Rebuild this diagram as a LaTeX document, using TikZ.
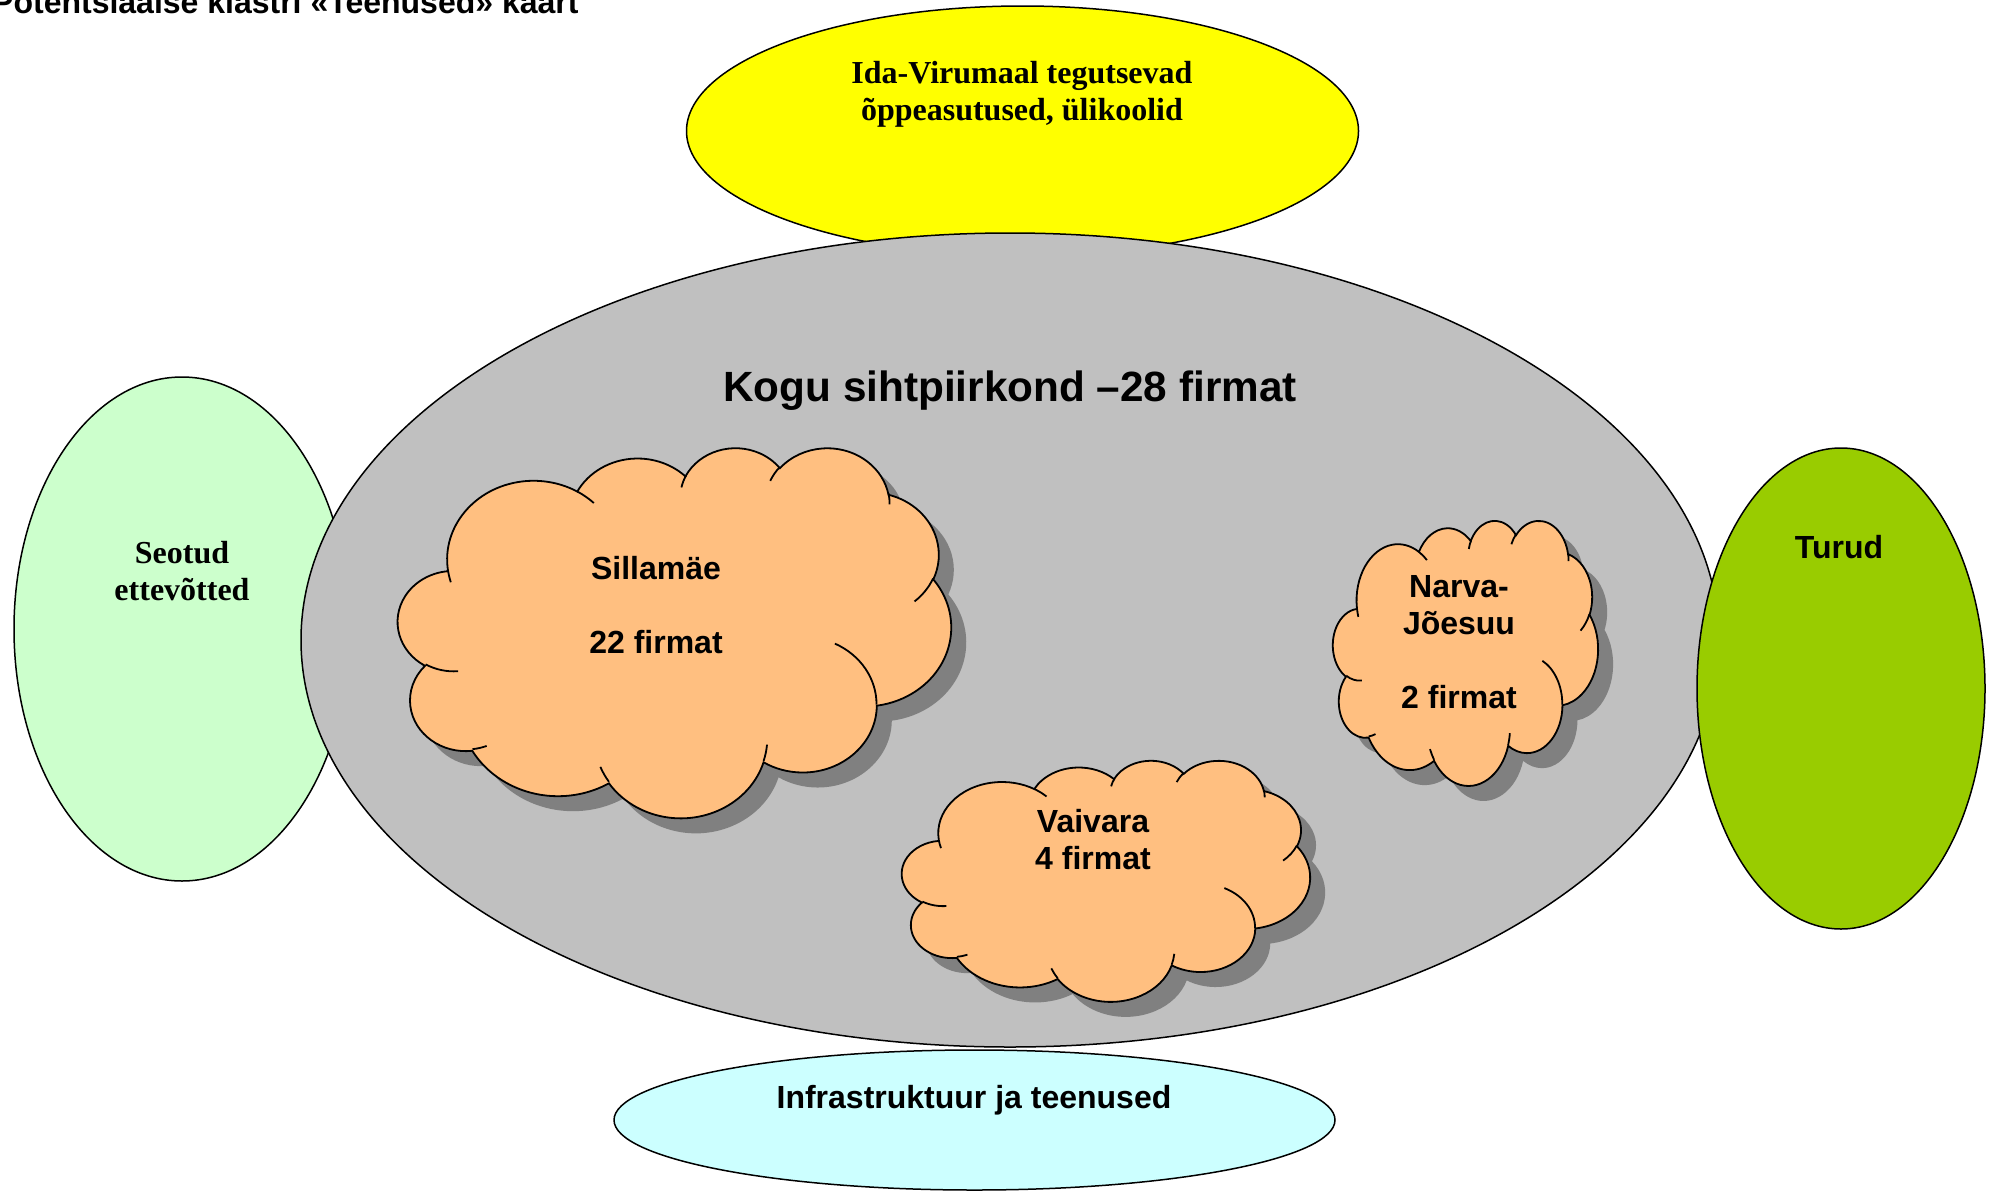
\documentclass[tikz,border=0pt]{standalone}
\usepackage{fontspec}
\setmainfont{Liberation Sans}
\newfontfamily\klTimes{Liberation Serif}
\usepackage{tikz}
\definecolor{klGray}{HTML}{C0C0C0}
\definecolor{klYellow}{HTML}{FFFF00}
\definecolor{klMint}{HTML}{CCFFCC}
\definecolor{klLime}{HTML}{99CC00}
\definecolor{klCyan}{HTML}{CCFFFF}
\definecolor{klOrange}{HTML}{FFBF80}
\definecolor{klShadow}{HTML}{808080}
\tikzset{
  klShape/.style={draw=black,line width=1.5pt},
  klSans/.style={font=\bfseries\fontsize{32}{37}\selectfont,align=center,inner sep=0pt},
  klSerif/.style={font=\klTimes\bfseries\fontsize{32}{37}\selectfont,align=center,inner sep=0pt},
  klBig/.style={font=\bfseries\fontsize{42.3}{48}\selectfont,inner sep=0pt},
  klPuff/.style={fill=klOrange,draw=black,line width=1.8pt},
  klPuffShadow/.style={fill=klShadow},
  klCrease/.style={draw=black,line width=1.8pt}
}
% arc of a puff: radii, visual start angle, visual sweep
\newcommand{\klAngles}[4]{%
  \pgfmathsetmacro{\klTs}{atan2(#1*sin(#3),#2*cos(#3))}%
  \pgfmathsetmacro{\klTe}{atan2(#1*sin(#3+#4),#2*cos(#3+#4))}%
  \pgfmathsetmacro{\klDt}{mod(\klTe-\klTs+720,360)}%
  \global\let\klTs\klTs\global\let\klDt\klDt}
\newcommand{\klArc}[4]{\pgfextra{\klAngles{#1}{#2}{#3}{#4}}
  arc[start angle=\klTs,delta angle=\klDt,x radius=#1,y radius=#2]}
% cloud outline in a 432 x 432 box
\newcommand{\klRim}{(39,143.7)
  \klArc{67.53}{91.90}{-190.4875}{123.7805}
  \klArc{53.33}{72.67}{-144.1024}{89.9452}
  \klArc{43.65}{59.45}{-145.8079}{99.7230}
  \klArc{48.57}{65.95}{-130.9861}{117.2417}
  \klArc{53.33}{72.73}{-78.7089}{109.0269}
  \klArc{67.75}{92.20}{-46.2673}{130.2690}
  \klArc{57.85}{78.67}{0.6250}{114.0333}
  \klArc{67.52}{92.15}{22.4516}{115.1726}
  \klArc{77.20}{105.43}{66.2426}{75.7110}
  \klArc{43.60}{59.18}{-274.9421}{146.7356}
  \klArc{43.45}{59.45}{-246.8285}{152.5189} -- cycle}
\newcommand{\klCreases}{
  (46.93,261.77) \klArc{43.45}{59.45}{86.742}{26.4295}
  (69.28,348.99) \klArc{43.60}{59.18}{73.6105}{11.4475}
  (164.78,390.90) \klArc{67.52}{92.15}{137.6242}{14.0811}
  (288.27,347.51) \klArc{67.52}{92.15}{6.4533}{15.9984}
  (341.29,229.54) \klArc{57.85}{78.67}{-70.2924}{70.9174}
  (417.98,153.54) \klArc{53.33}{72.73}{30.318}{27.7515}
  (383.24,54.26) \klArc{48.57}{65.95}{-13.7443}{14.8589}
  (290.78,39.52) \klArc{48.57}{65.95}{-149.1815}{18.1954}
  (221.41,47.20) \klArc{43.65}{59.45}{-163.4943}{17.6864}
  (140.00,51.92) \klArc{67.53}{91.90}{-66.707}{12.3194}
  (41.27,157.89) \klArc{67.53}{91.90}{157.6544}{11.8582}}
% cloud: left, top, width, height
\newcommand{\klCloud}[4]{%
  \begin{scope}[shift={(#1+15,#2+15)},xscale=#3/432,yscale=#4/432]
    \path[klPuffShadow] \klRim;
  \end{scope}
  \begin{scope}[shift={(#1,#2)},xscale=#3/432,yscale=#4/432]
    \path[klPuff] \klRim;
    \draw[klCrease] \klCreases;
  \end{scope}}

\begin{document}
\begin{tikzpicture}[x=1pt,y=-1pt]
\useasboundingbox (0,0) rectangle (1993,1191);
\clip (0,0) rectangle (1993,1191);
\fill[white] (0,0) rectangle (1993,1191);
% surrounding ellipses
\path[klShape,fill=klYellow] (1022.5,131) ellipse[x radius=336,y radius=125];
\path[klShape,fill=klMint] (182,629) ellipse[x radius=168,y radius=252];
\path[klShape,fill=klGray] (1010,640) ellipse[x radius=709,y radius=407];
\path[klShape,fill=klLime] (1841,688.5) ellipse[x radius=144,y radius=240.5];
\path[klShape,fill=klCyan] (974.5,1120) ellipse[x radius=360.5,y radius=70];
% clouds
\klCloud{398}{447}{553}{370}
\klCloud{1333}{520}{265}{265}
\klCloud{902}{760}{408}{241}
% labels
\node[klSans,anchor=base west] (title) at (-8,13) {Potentsiaalse klastri «Teenused» kaart};
\node[klSerif] (oppeTxt) at (1022,94) {Ida-Virumaal tegutsevad\\õppeasutused, ülikoolid};
\node[klBig,anchor=base] (koguTxt) at (1010,401) {Kogu sihtpiirkond –28 firmat};
\node[klSerif] (seotudTxt) at (182,571) {Seotud\\ettevõtted};
\node[klSans,anchor=base] (turudTxt) at (1839,558) {Turud};
\node[klSans,anchor=base] (infraTxt) at (974,1108) {Infrastruktuur ja teenused};
\node[klSans] (sillTxt) at (656,605) {Sillamäe\\[37pt]22 firmat};
\node[klSans] (narvaTxt) at (1459,642) {Narva-\\Jõesuu\\[37pt]2 firmat};
\node[klSans] (vaivTxt) at (1093,840) {Vaivara\\4 firmat};
\end{tikzpicture}
\end{document}
